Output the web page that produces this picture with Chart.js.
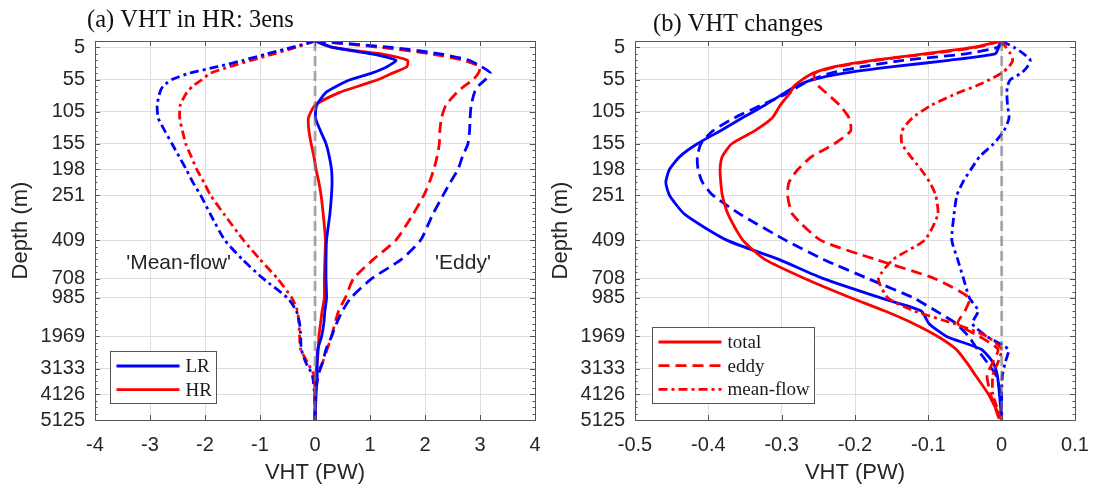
<!DOCTYPE html>
<html>
<head>
<meta charset="utf-8">
<title>VHT profiles</title>
<script src="https://cdn.jsdelivr.net/npm/chart.js@4.4.1/dist/chart.umd.min.js"></script>
<style>
  body { margin: 0; background: #fff; }
  #wrap { position: relative; width: 1094px; height: 489px; }
  .panel { position: absolute; top: 0; width: 547px; height: 489px; }
  #panelA { left: 0; }
  #panelB { left: 547px; }
</style>
</head>
<body>
<div id="wrap">
  <div class="panel" id="panelA"><canvas id="vhtGraph" width="547" height="489"></canvas></div>
  <div class="panel" id="panelB"><canvas id="changeGraph" width="547" height="489"></canvas></div>
</div>
<script>
"use strict";

// model levels the profiles are sampled on (0 = sea surface)
const levels = [0, 1, 2, 3, 4, 5, 6, 7, 8, 10, 12, 14, 16, 18, 20, 22, 24, 27, 31, 34, 37, 40, 42, 44, 46, 48, 50, 52, 55, 59];
// depth labels shown on the y axis and the level each one sits on
const depthTickLevels = [1, 6, 11, 16, 20, 24, 31, 37, 40, 46, 51, 55, 59];
const depthTickLabels = [5, 55, 105, 155, 198, 251, 409, 708, 985, 1969, 3133, 4126, 5125];
const vhtTicks = [-4, -3, -2, -1, 0, 1, 2, 3, 4];
const changeTicks = [-0.5, -0.4, -0.3, -0.2, -0.1, 0, 0.1];

// (a) VHT in HR, 3-member ensemble (PW)
const lrTotal = [0, 0.33, 1.03, 1.47, 1.31, 1.03, 0.65, 0.4, 0.2, 0.03, 0.01, 0.1, 0.2, 0.26, 0.3, 0.31, 0.3, 0.27, 0.21, 0.2, 0.2, 0.21, 0.18, 0.16, 0.12, 0.05, 0.04, 0.04, 0.02, 0];
const hrTotal = [0, 0.3, 1.2, 1.68, 1.67, 1.41, 1.15, 0.8, 0.45, 0, -0.12, -0.11, -0.07, -0.02, 0.02, 0.07, 0.11, 0.15, 0.19, 0.18, 0.17, 0.17, 0.13, 0.1, 0.07, 0.06, 0.04, 0.01, 0, 0];
const lrEddy = [0, 1.4, 2.27, 2.8, 3.03, 3.19, 3.1, 2.97, 2.9, 2.84, 2.82, 2.81, 2.78, 2.68, 2.6, 2.46, 2.33, 2.14, 1.92, 1.57, 1.03, 0.65, 0.5, 0.39, 0.3, 0.2, 0.14, 0.06, 0.01, 0];
const hrEddy = [0, 1.2, 2.1, 2.7, 3.0, 2.97, 2.88, 2.72, 2.58, 2.38, 2.3, 2.27, 2.26, 2.22, 2.16, 2.08, 1.98, 1.78, 1.47, 1.06, 0.7, 0.55, 0.43, 0.36, 0.3, 0.22, 0.14, 0.04, 0, 0];
const lrMean = [0, -0.42, -0.87, -1.3, -1.77, -2.28, -2.6, -2.76, -2.82, -2.87, -2.85, -2.73, -2.6, -2.47, -2.34, -2.22, -2.08, -1.9, -1.64, -1.32, -0.94, -0.5, -0.34, -0.28, -0.26, -0.25, -0.17, -0.05, -0.01, 0];
const hrMean = [0, -0.35, -0.75, -1.15, -1.55, -1.9, -2.05, -2.22, -2.33, -2.45, -2.46, -2.41, -2.35, -2.25, -2.15, -2.02, -1.9, -1.65, -1.3, -1.0, -0.68, -0.42, -0.32, -0.29, -0.28, -0.26, -0.14, -0.02, 0, 0];

// (b) VHT changes (PW)
const hrTotalChange = [0, -0.039, -0.105, -0.176, -0.228, -0.257, -0.272, -0.283, -0.288, -0.302, -0.313, -0.337, -0.368, -0.381, -0.384, -0.383, -0.381, -0.373, -0.353, -0.323, -0.268, -0.205, -0.16, -0.12, -0.087, -0.062, -0.048, -0.036, -0.018, 0];
const hrEddyChange = [0, -0.035, -0.1, -0.17, -0.225, -0.255, -0.255, -0.25, -0.24, -0.221, -0.208, -0.206, -0.228, -0.259, -0.278, -0.29, -0.292, -0.285, -0.247, -0.172, -0.091, -0.044, -0.05, -0.06, -0.03, -0.005, -0.012, -0.02, -0.015, -0.003];
const hrMeanChange = [0, 0.006, 0.012, 0.015, 0.01, 0, -0.016, -0.035, -0.058, -0.096, -0.122, -0.136, -0.136, -0.124, -0.11, -0.098, -0.09, -0.087, -0.105, -0.148, -0.168, -0.155, -0.12, -0.065, -0.02, 0, -0.005, -0.012, -0.012, 0];
const lrTotalChange = [0, -0.004, -0.009, -0.072, -0.148, -0.214, -0.257, -0.28, -0.295, -0.323, -0.354, -0.384, -0.415, -0.439, -0.453, -0.458, -0.453, -0.432, -0.375, -0.304, -0.243, -0.165, -0.11, -0.099, -0.075, -0.028, -0.012, -0.006, -0.003, 0];
const lrEddyChange = [0, -0.006, -0.049, -0.134, -0.19, -0.233, -0.259, -0.276, -0.29, -0.328, -0.365, -0.394, -0.41, -0.415, -0.414, -0.408, -0.394, -0.356, -0.295, -0.243, -0.182, -0.12, -0.09, -0.062, -0.045, -0.033, -0.02, -0.008, -0.001, 0];
const lrMeanChange = [0, 0.017, 0.03, 0.039, 0.035, 0.027, 0.012, 0.008, 0.007, 0.008, 0.01, 0.003, -0.011, -0.03, -0.042, -0.053, -0.061, -0.065, -0.068, -0.06, -0.052, -0.044, -0.032, -0.04, -0.02, 0.009, 0.005, 0.001, 0, 0];

const zeroLine = [0, 0];
const zeroLevels = [0, 59];

const RED = "#ff0000";
const BLUE = "#0000ff";
const DASH = [11, 6];
const DASHDOT = [9, 4, 3, 4];
const SANS = '"Liberation Sans", Arial, sans-serif';
const SERIF = '"Liberation Serif", "Times New Roman", serif';
const TEXT = "#262626";
const GRID = "#dedede";

//turn a value list into depth profile points
const profile = (values) => levels.map((lv, i) => ({ x: values[i], y: lv }));

const line = (label, values, color, dash) => ({
  label: label,
  data: profile(values),
  borderColor: color,
  borderWidth: 2.8,
  borderDash: dash,
  borderJoinStyle: "round",
  pointRadius: 0,
  showLine: true,
  fill: false,
  tension: 0.2,
});

const zeroDataset = () => ({
  label: "zero",
  data: zeroLine.map((v, i) => ({ x: v, y: zeroLevels[i] })),
  borderColor: "rgba(120,120,120,0.62)",
  borderWidth: 2.8,
  borderDash: [10, 5],
  pointRadius: 0,
  showLine: true,
  order: -1,
});

// box round the axes with inward tick marks on all four sides
const boxFrame = {
  id: "boxFrame",
  afterDatasetsDraw(chart) {
    const { ctx, chartArea: a, scales } = chart;
    ctx.save();
    ctx.strokeStyle = "#555";
    ctx.lineWidth = 1;
    ctx.beginPath();
    scales.x.ticks.forEach((t) => {
      const px = Math.round(scales.x.getPixelForValue(t.value)) + 0.5;
      ctx.moveTo(px, a.bottom);
      ctx.lineTo(px, a.bottom - 5);
      ctx.moveTo(px, a.top);
      ctx.lineTo(px, a.top + 5);
    });
    scales.y.ticks.forEach((t) => {
      const py = Math.round(scales.y.getPixelForValue(t.value)) + 0.5;
      ctx.moveTo(a.left, py);
      ctx.lineTo(a.left + 5, py);
      ctx.moveTo(a.right, py);
      ctx.lineTo(a.right - 5, py);
    });
    // minor ticks, one per model level
    for (let lv = scales.y.min; lv <= scales.y.max; lv++) {
      const py = Math.round(scales.y.getPixelForValue(lv)) + 0.5;
      ctx.moveTo(a.left, py);
      ctx.lineTo(a.left + 2.5, py);
      ctx.moveTo(a.right, py);
      ctx.lineTo(a.right - 2.5, py);
    }
    ctx.stroke();
    ctx.strokeRect(Math.round(a.left) + 0.5, Math.round(a.top) + 0.5, Math.round(a.width), Math.round(a.height));
    ctx.restore();
  },
};

// panel heading and free text labels
const panelText = {
  id: "panelText",
  afterDraw(chart, args, opts) {
    const { ctx, chartArea: a, scales } = chart;
    ctx.save();
    ctx.fillStyle = "#111";
    ctx.textBaseline = "alphabetic";
    ctx.font = "24.5px " + SERIF;
    ctx.fillText(opts.title, a.left + opts.titleX, opts.titleY);
    ctx.font = "21px " + SANS;
    ctx.fillStyle = TEXT;
    ctx.textAlign = "center";
    ctx.textBaseline = "middle";
    (opts.notes || []).forEach((n) => {
      ctx.fillText(n.text, scales.x.getPixelForValue(n.x), scales.y.getPixelForValue(n.y));
    });
    ctx.restore();
  },
};

// boxed legend in the lower left corner
const boxLegend = {
  id: "boxLegend",
  afterDraw(chart, args, opts) {
    const { ctx, chartArea: a } = chart;
    const items = opts.items.map((i) => chart.data.datasets[i]);
    ctx.save();
    ctx.font = "19px " + SERIF;
    const textW = Math.max(...items.map((d) => ctx.measureText(d.label).width));
    const rowH = 23.7;
    const w = Math.round(6 + 63 + 6 + textW + 5);
    const h = Math.round(rowH * (items.length - 1) + 28.5);
    const x0 = Math.round(a.left + opts.offsetX) + 0.5;
    const y0 = Math.round(a.bottom - opts.offsetY - h) + 0.5;
    ctx.fillStyle = "#fff";
    ctx.fillRect(x0, y0, w, h);
    ctx.strokeStyle = "#555";
    ctx.lineWidth = 1;
    ctx.strokeRect(x0, y0, w, h);
    items.forEach((d, k) => {
      const cy = y0 + 14.5 + k * rowH;
      ctx.beginPath();
      ctx.setLineDash(d.borderDash || []);
      ctx.strokeStyle = d.borderColor;
      ctx.lineWidth = d.borderWidth;
      ctx.moveTo(x0 + 6, cy);
      ctx.lineTo(x0 + 69, cy);
      ctx.stroke();
      ctx.setLineDash([]);
      ctx.fillStyle = "#1a1a1a";
      ctx.textBaseline = "middle";
      ctx.fillText(d.label, x0 + 75, cy + 1);
    });
    ctx.restore();
  },
};

// keep edge tick labels from pushing the plot area inwards
const noEdgePadding = (axis) => {
  axis.paddingLeft = 0;
  axis.paddingRight = 0;
  axis.paddingTop = 0;
  axis.paddingBottom = 0;
};

const depthAxis = (axisWidth, titlePad) => ({
  type: "linear",
  reverse: true,
  min: 0,
  max: 59,
  afterBuildTicks: (axis) => {
    axis.ticks = depthTickLevels.map((v) => ({ value: v }));
  },
  afterFit: (axis) => {
    axis.width = axisWidth;
    noEdgePadding(axis);
  },
  ticks: {
    autoSkip: false,
    padding: 10,
    color: TEXT,
    font: { family: SANS, size: 20 },
    callback: (v, i) => String(depthTickLabels[i]),
  },
  grid: { color: GRID, drawTicks: false },
  border: { display: false },
  title: {
    display: true,
    text: "Depth (m)",
    color: TEXT,
    font: { family: SANS, size: 22 },
    padding: { top: titlePad, bottom: 0 },
  },
});

const vhtAxis = (ticks) => ({
  type: "linear",
  min: ticks[0],
  max: ticks[ticks.length - 1],
  afterBuildTicks: (axis) => {
    axis.ticks = ticks.map((v) => ({ value: v }));
  },
  afterFit: (axis) => {
    axis.height = 69;
    noEdgePadding(axis);
  },
  ticks: {
    autoSkip: false,
    maxRotation: 0,
    padding: 13,
    color: TEXT,
    font: { family: SANS, size: 20 },
    callback: (v, i) => String(ticks[i]),
  },
  grid: { color: GRID, drawTicks: false },
  border: { display: false },
  title: {
    display: true,
    text: "VHT (PW)",
    color: TEXT,
    font: { family: SANS, size: 22 },
    padding: { top: 0, bottom: 3 },
  },
});

//GRAPHS
const vhtGraph = document.getElementById("vhtGraph").getContext("2d");
new Chart(vhtGraph, {
  type: "scatter",
  data: {
    datasets: [
      line("LR", lrTotal, BLUE, []),
      line("HR", hrTotal, RED, []),
      line("LR eddy", lrEddy, BLUE, DASH),
      line("HR eddy", hrEddy, RED, DASH),
      line("LR mean-flow", lrMean, BLUE, DASHDOT),
      line("HR mean-flow", hrMean, RED, DASHDOT),
      zeroDataset(),
    ],
  },
  options: {
    responsive: false,
    animation: false,
    layout: { padding: { top: 41, right: 12, left: 0, bottom: 0 }, autoPadding: false },
    scales: { x: vhtAxis(vhtTicks), y: depthAxis(95, 8) },
    plugins: {
      legend: { display: false },
      tooltip: { enabled: false },
      boxLegend: { items: [0, 1], offsetX: 15, offsetY: 17 },
      panelText: {
        title: "(a) VHT in HR: 3ens",
        titleX: -8,
        titleY: 27,
        notes: [
          { text: "'Mean-flow'", x: -2.48, y: 34.6 },
          { text: "'Eddy'", x: 2.69, y: 34.6 },
        ],
      },
    },
  },
  plugins: [boxFrame, boxLegend, panelText],
});

const changeGraph = document.getElementById("changeGraph").getContext("2d");
new Chart(changeGraph, {
  type: "scatter",
  data: {
    datasets: [
      line("total", hrTotalChange, RED, []),
      line("eddy", hrEddyChange, RED, DASH),
      line("mean-flow", hrMeanChange, RED, DASHDOT),
      line("LR total", lrTotalChange, BLUE, []),
      line("LR eddy", lrEddyChange, BLUE, DASH),
      line("LR mean-flow", lrMeanChange, BLUE, DASHDOT),
      zeroDataset(),
    ],
  },
  options: {
    responsive: false,
    animation: false,
    layout: { padding: { top: 41, right: 19, left: 0, bottom: 0 }, autoPadding: false },
    scales: { x: vhtAxis(changeTicks), y: depthAxis(88, 1) },
    plugins: {
      legend: { display: false },
      tooltip: { enabled: false },
      boxLegend: { items: [0, 1, 2], offsetX: 17, offsetY: 17 },
      panelText: { title: "(b) VHT changes", titleX: 18, titleY: 31 },
    },
  },
  plugins: [boxFrame, boxLegend, panelText],
});
</script>
</body>
</html>
